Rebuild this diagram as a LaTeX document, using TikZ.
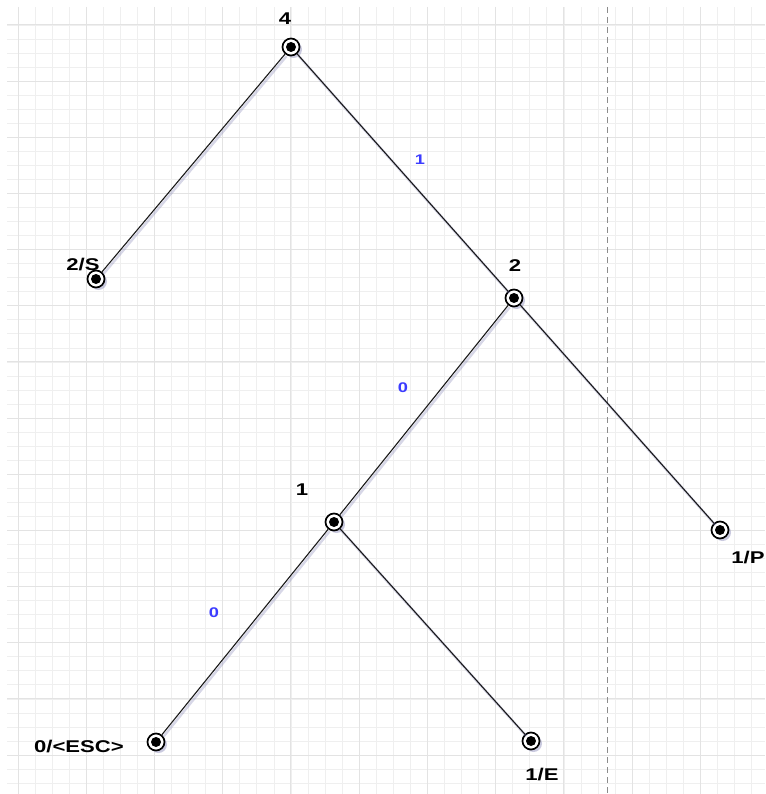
\documentclass[tikz,border=0pt]{standalone}
\usepackage{fontspec}
\usepackage{xcolor}
\usepackage{tikz}
\usetikzlibrary{shadows,positioning}
\newfontfamily\lblfont[FakeStretch=1.3]{Liberation Sans}
\definecolor{gridminor}{HTML}{EFEFEF}
\definecolor{gridmajor}{HTML}{E3E3E3}
\definecolor{edgeblue}{HTML}{3C3CFF}
\definecolor{shadowblue}{HTML}{7A7AB0}

\begin{document}
\begin{tikzpicture}[
    x=1pt, y=-1pt,
    state/.style={circle, draw=black, line width=1.7pt, fill=white, minimum size=17pt, inner sep=0pt,
        drop shadow={shadow xshift=2.5pt, shadow yshift=-2.5pt, opacity=0.4, fill=shadowblue},
        path picture={\fill[black] (path picture bounding box.center) circle (5pt);}},
    lbl/.style={inner sep=0pt, font=\lblfont\bfseries\fontsize{17}{19}\selectfont},
    weight/.style={inner sep=0pt, text=edgeblue, font=\lblfont\bfseries\fontsize{14}{16}\selectfont},
    branch/.style={draw=black!90, line width=1.1pt,
        preaction={draw=shadowblue, opacity=0.3, line width=2.5pt, transform canvas={shift={(1.5pt,-2pt)}}}},
]
    \useasboundingbox (0,0) rectangle (765,794);
    % grid
    \begin{scope}
        \clip (7,7) rectangle (765,794);
        \foreach \i in {0,...,43}
            \draw[gridminor, line width=0.8pt] (18+17.06*\i,7) -- (18+17.06*\i,794);
        \foreach \j in {0,...,54}
            \draw[gridminor, line width=0.8pt] (7,25+14.04*\j) -- (765,25+14.04*\j);
        \foreach \i in {0,...,10}
            \draw[gridmajor, line width=1pt] (18+68.24*\i,7) -- (18+68.24*\i,794);
        \foreach \j in {0,...,13}
            \draw[gridmajor, line width=1pt] (7,25+56.16*\j) -- (765,25+56.16*\j);
    \end{scope}
    \draw[gray!90, line width=1pt, dash pattern=on 6pt off 4pt] (607,7) -- (607,794);

    \node[state] (n4) at (291,47) {};
    \node[state] (nS) at (96,279) {};
    \node[state] (n2) at (514,298) {};
    \node[state] (n1) at (334,522) {};
    \node[state] (nP) at (720,530) {};
    \node[state] (nEsc) at (156,742) {};
    \node[state] (nE) at (531,741) {};

    \node[lbl] (l4) at (285,19) {4};
    \node[lbl] (lS) at (83,265) {2/S};
    \node[lbl] (l2) at (515,266) {2};
    \node[lbl] (l1) at (302,490) {1};
    \node[lbl] (lP) at (748,558) {1/P};
    \node[lbl] (lEsc) at (79,747) {0/<ESC>};
    \node[lbl] (lE) at (542,775) {1/E};

    \node[weight] (w42) at (420,160) {1};
    \node[weight] (w21) at (403,388) {0};
    \node[weight] (w1E) at (214,613) {0};

    \path[branch] (n4) -- (nS);
    \path[branch] (n4) -- (n2);
    \path[branch] (n2) -- (n1);
    \path[branch] (n2) -- (nP);
    \path[branch] (n1) -- (nEsc);
    \path[branch] (n1) -- (nE);
\end{tikzpicture}
\end{document}
